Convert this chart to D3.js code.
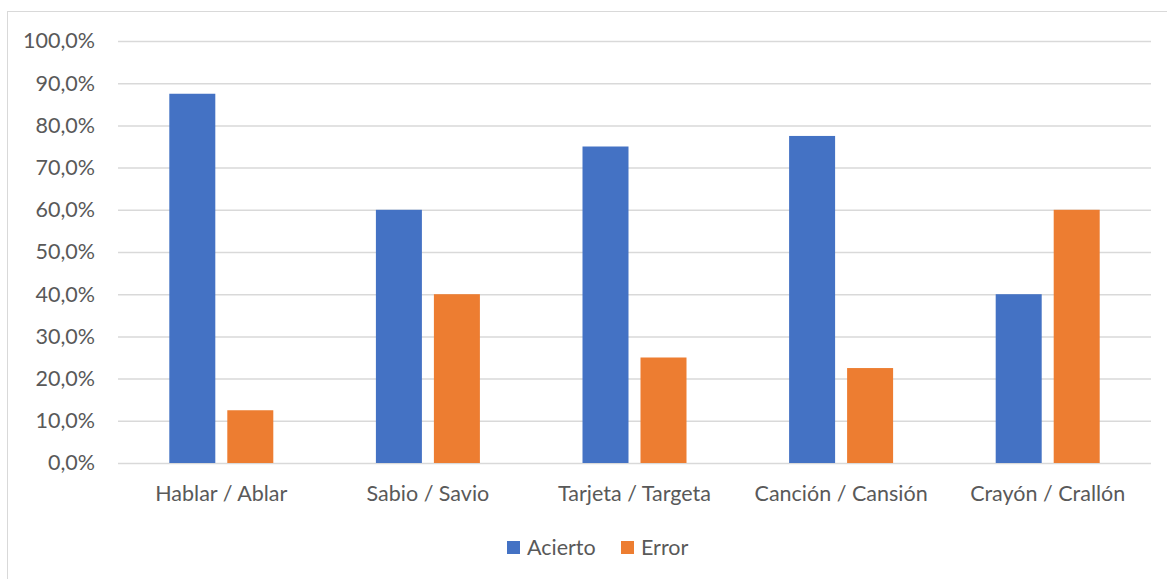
<!DOCTYPE html>
<html>
<head>
<meta charset="utf-8">
<script src="https://cdn.jsdelivr.net/npm/d3@7"></script>
<style>
  html, body { margin: 0; padding: 0; background: #fff; }
  svg { display: block; font-family: Lato, "Open Sans", sans-serif; }
</style>
</head>
<body>
<svg id="chart" width="1167" height="579"></svg>
<script>
// Word pairs and the share of correct / incorrect answers for each
const categories = ["Hablar / Ablar", "Sabio / Savio", "Tarjeta / Targeta", "Canción / Cansión", "Crayón / Crallón"];
const acierto = [0.875, 0.60, 0.75, 0.775, 0.40];
const error = [0.125, 0.40, 0.25, 0.225, 0.60];
const seriesNames = ["Acierto", "Error"];
const seriesColors = ["#4472C4", "#ED7D31"];
const yTicks = [0, 0.1, 0.2, 0.3, 0.4, 0.5, 0.6, 0.7, 0.8, 0.9, 1.0];

const svg = d3.select("#chart");
const W = 1167, H = 579;
const plot = { left: 118, right: 1151, top: 41, bottom: 463 };
const FONT = "Lato, 'Open Sans', sans-serif";
const FS = 21.5;

// Outer chart frame
svg.append("rect")
  .attr("x", 7.5).attr("y", 11.5)
  .attr("width", W + 10).attr("height", H + 10)
  .attr("fill", "#fff").attr("stroke", "#D9D9D9").attr("stroke-width", 1);

const x = d3.scaleBand().domain(categories).range([plot.left, plot.right]).paddingInner(0).paddingOuter(0);
const y = d3.scaleLinear().domain([0, 1]).range([plot.bottom, plot.top]);

const fmt = v => d3.format(".1f")(v * 100).replace(".", ",") + "%";

// Horizontal gridlines and value axis labels
const yAxis = d3.axisLeft(y).tickValues(yTicks).tickFormat(fmt)
  .tickSize(-(plot.right - plot.left)).tickPadding(23);
const gy = svg.append("g").attr("transform", `translate(${plot.left},0)`).call(yAxis);
gy.select(".domain").remove();
gy.selectAll(".tick line").attr("stroke", "#D9D9D9").attr("stroke-width", 1.5);
gy.selectAll(".tick text")
  .attr("fill", "#595959").attr("font-size", FS).attr("font-family", FONT);

// Category labels
const xAxis = d3.axisBottom(x).tickSize(0).tickPadding(23);
const gx = svg.append("g").attr("transform", `translate(0,${plot.bottom})`).call(xAxis);
gx.select(".domain").remove();
gx.selectAll(".tick text")
  .attr("fill", "#595959").attr("font-size", FS).attr("font-family", FONT);

// Clustered bars
const barW = 46, barGap = 12;
const inner = d3.scaleOrdinal().domain(seriesNames).range([-(barGap / 2 + barW), barGap / 2]);
const rows = categories.map((c, i) => ({ c, vals: [acierto[i], error[i]] }));
const groups = svg.append("g").selectAll("g").data(rows).join("g")
  .attr("transform", d => `translate(${x(d.c) + x.bandwidth() / 2},0)`);
groups.selectAll("rect")
  .data(d => d.vals.map((v, k) => ({ v, k })))
  .join("rect")
  .attr("x", d => inner(seriesNames[d.k]))
  .attr("width", barW)
  .attr("y", d => y(d.v))
  .attr("height", d => y(0) - y(d.v))
  .attr("fill", d => seriesColors[d.k]);

// Legend
const legendItems = [{ name: seriesNames[0], x: 507 }, { name: seriesNames[1], x: 621 }];
const lg = svg.append("g");
legendItems.forEach((it, k) => {
  lg.append("rect").attr("x", it.x).attr("y", 541).attr("width", 13).attr("height", 13)
    .attr("fill", seriesColors[k]);
  lg.append("text").attr("x", it.x + 20).attr("y", 555)
    .attr("fill", "#595959").attr("font-size", FS).attr("font-family", FONT).text(it.name);
});
</script>
</body>
</html>
